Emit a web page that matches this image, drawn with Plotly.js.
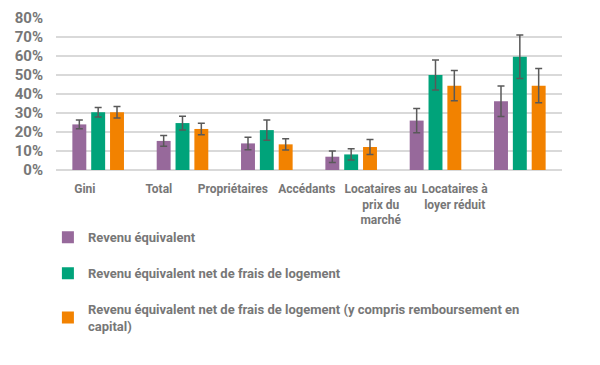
<!DOCTYPE html>
<html><head><meta charset="utf-8">
<script src="https://cdn.plot.ly/plotly-3.0.1.min.js"></script>
<style>body{margin:0;background:#fff}#c{width:600px;height:365px}</style>
</head><body><div id="c"></div>
<script>
const categories = ["Gini","Total","Propriétaires","Accédants","Locataires au prix du marché","Locataires à loyer réduit"];
const tickLabels = ["Gini","Total","Propriétaires","Accédants","Locataires au<br>prix du<br>marché","Locataires à<br>loyer réduit"];
const seriesNames = ["Revenu équivalent","Revenu équivalent net de frais de logement","Revenu équivalent net de frais de logement (y compris remboursement en<br>capital)"];
const revenuEquivalent = [0.24,0.153,0.14,0.07,0.26,0.362];
const revenuEquivalentErr = [0.023,0.028,0.033,0.03,0.064,0.08];
const revenuNet = [0.304,0.247,0.21,0.082,0.50,0.596];
const revenuNetErr = [0.025,0.036,0.053,0.03,0.079,0.115];
const revenuNetCapital = [0.304,0.216,0.135,0.121,0.444,0.444];
const revenuNetCapitalErr = [0.03,0.03,0.03,0.04,0.08,0.09];
const colors = ["#97699B","#00A37A","#F28200"];
const yTicks = [0,0.1,0.2,0.3,0.4,0.5,0.6,0.7,0.8];

const font = "Roboto, sans-serif";
const vals = [revenuEquivalent,revenuNet,revenuNetCapital];
const errs = [revenuEquivalentErr,revenuNetErr,revenuNetCapitalErr];
const traces = vals.map((v,i)=>({
  type:'bar', x:categories, y:v, name:seriesNames[i], legendgroup:'g'+i,
  marker:{color:colors[i]},
  error_y:{type:'data', array:errs[i], visible:true, color:'#595959', thickness:1.5, width:3.5},
  hoverinfo:'y'
}));
traces.push({type:'scatter', x:tickLabels, y:tickLabels.map(()=>null), xaxis:'x2', yaxis:'y',
  showlegend:false, hoverinfo:'skip', mode:'markers'});

const layout = {
  width:600, height:365,
  margin:{l:56, r:38, t:18, b:195},
  paper_bgcolor:'#fff', plot_bgcolor:'#fff',
  font:{family:font, color:'#777777', size:13, weight:'bold'},
  barmode:'group', bargap:0.33, bargroupgap:0.26,
  xaxis:{showticklabels:false, showgrid:false, zeroline:false, showline:false, ticks:''},
  xaxis2:{overlaying:'x', anchor:'y', side:'bottom', domain:[0,1], type:'category',
    categoryarray:tickLabels, showgrid:false, zeroline:false, showline:false, ticks:'',
    range:[-0.39,6.45], tickangle:0, ticklabelstandoff:10,
    tickfont:{family:font, color:'#777777', size:12, weight:'bold'}},
  yaxis:{range:[0,0.8], tickvals:yTicks, tickformat:'.0%', showgrid:true, gridcolor:'#D9D9D9', gridwidth:1.5,
    zeroline:true, zerolinecolor:'#D9D9D9', zerolinewidth:1.5, showline:false, ticks:'', ticklen:0,
    ticklabelstandoff:12,
    tickfont:{family:font, color:'#777777', size:15, weight:'bold'}},
  showlegend:true,
  legend:{x:-0.016, xanchor:'left', y:-0.344, yanchor:'top', orientation:'v', traceorder:'grouped', tracegroupgap:16,
    font:{family:font, color:'#777777', size:13, weight:'bold'}, bgcolor:'rgba(0,0,0,0)'}
};
Plotly.newPlot('c', traces, layout, {displayModeBar:false, staticPlot:true});
</script></body></html>
